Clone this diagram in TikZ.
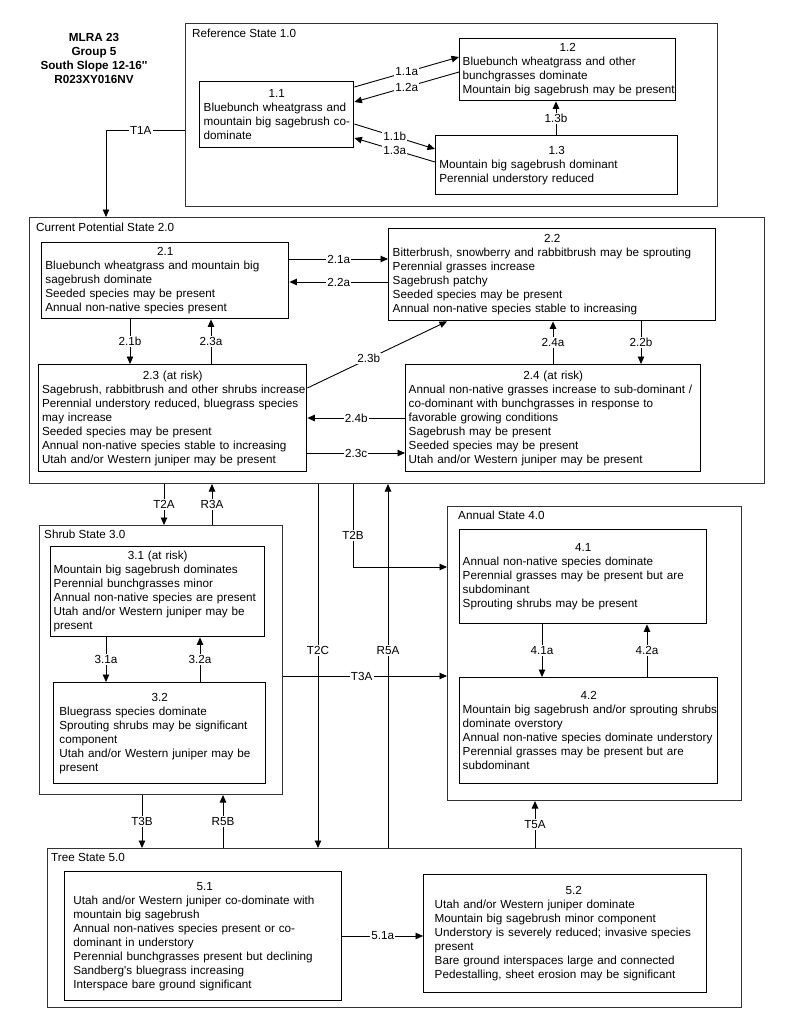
\documentclass[tikz,border=0pt]{standalone}
\usepackage{fontspec}
\setmainfont{Liberation Sans}[Ligatures=TeXOff]
\usetikzlibrary{arrows.meta}
\setlength{\parindent}{0pt}
\newcommand\bodyfont{\fontsize{11.7}{14}\selectfont}
\tikzset{
  statebox/.style={draw=black!80, line width=1pt, anchor=north west, inner sep=0pt},
  stitle/.style={anchor=base west, inner sep=0pt, font=\bodyfont},
  cbox/.style={draw, line width=1.4pt, anchor=north west, inner ysep=0pt, align=left, font=\bodyfont},
  conn/.style={line width=0.9pt, -{Triangle[length=7.5pt,width=6.5pt]}},
  lab/.style={fill=white, inner sep=1.2pt, font=\bodyfont},
}
\begin{document}
\begin{tikzpicture}[x=1pt,y=-1pt]
\useasboundingbox[fill=white] (0,0) rectangle (800,1036);

% header
\node[font=\bfseries\bodyfont, align=center, inner sep=0pt] (hdr) at (94,58) {MLRA 23\\Group 5\\South Slope 12-16''\\R023XY016NV};

% state boxes
\node[statebox, minimum width=532pt, minimum height=183pt] (s1) at (185,23) {};
\node[statebox, minimum width=735pt, minimum height=266pt] (s2) at (29,217) {};
\node[statebox, minimum width=243pt, minimum height=269pt] (s3) at (39,525) {};
\node[statebox, minimum width=294pt, minimum height=294pt] (s4) at (447,506) {};
\node[statebox, minimum width=694pt, minimum height=159pt] (s5) at (47,848) {};

\node[stitle] (st1) at (192,37) {Reference State 1.0};
\node[stitle] (st2) at (36,231) {Current Potential State 2.0};
\node[stitle] (st3) at (44,538) {Shrub State 3.0};
\node[stitle] (st4) at (458,519) {Annual State 4.0};
\node[stitle] (st5) at (51,861) {Tree State 5.0};

% community boxes
\node[cbox, inner xsep=4pt, minimum width=154pt, minimum height=66pt, text width=146pt] (n11) at (199,81)
 {{\centering 1.1\par}\mbox{Bluebunch wheatgrass and}\\\mbox{mountain big sagebrush co-}\\\mbox{dominate}};
\node[cbox, inner xsep=3pt, minimum width=216pt, minimum height=62pt, text width=210pt] (n12) at (459,38)
 {{\centering 1.2\par}\mbox{Bluebunch wheatgrass and other}\\\mbox{bunchgrasses dominate}\\\mbox{Mountain big sagebrush may be present}};
\node[cbox, inner xsep=3.7pt, minimum width=242pt, minimum height=59pt, text width=234.6pt] (n13) at (435,135)
 {{\centering 1.3\par}\mbox{Mountain big sagebrush dominant}\\\mbox{Perennial understory reduced}};

\node[cbox, inner xsep=3.7pt, minimum width=247pt, minimum height=76pt, text width=239.6pt] (n21) at (41,242)
 {{\centering 2.1\par}\mbox{Bluebunch wheatgrass and mountain big}\\\mbox{sagebrush dominate}\\\mbox{Seeded species may be present}\\\mbox{Annual non-native species present}};
\node[cbox, inner xsep=4pt, minimum width=327pt, minimum height=92pt, text width=319pt] (n22) at (388,228)
 {{\centering 2.2\par}\mbox{Bitterbrush, snowberry and rabbitbrush may be sprouting}\\\mbox{Perennial grasses increase}\\\mbox{Sagebrush patchy}\\\mbox{Seeded species may be present}\\\mbox{Annual non-native species stable to increasing}};
\node[cbox, inner xsep=3.3pt, minimum width=268pt, minimum height=107pt, text width=261.4pt] (n23) at (38,364)
 {{\centering 2.3 (at risk)\par}\mbox{Sagebrush, rabbitbrush and other shrubs increase}\\\mbox{Perennial understory reduced, bluegrass species}\\\mbox{may increase}\\\mbox{Seeded species may be present}\\\mbox{Annual non-native species stable to increasing}\\\mbox{Utah and/or Western juniper may be present}};
\node[cbox, inner xsep=3pt, minimum width=295pt, minimum height=107pt, text width=289pt] (n24) at (405,364)
 {{\centering 2.4 (at risk)\par}\mbox{Annual non-native grasses increase to sub-dominant /}\\\mbox{co-dominant with bunchgrasses in response to}\\\mbox{favorable growing conditions}\\\mbox{Sagebrush may be present}\\\mbox{Seeded species may be present}\\\mbox{Utah and/or Western juniper may be present}};

\node[cbox, inner xsep=3pt, minimum width=214pt, minimum height=90pt, text width=208pt] (n31) at (50,546)
 {{\centering 3.1 (at risk)\par}\mbox{Mountain big sagebrush dominates}\\\mbox{Perennial bunchgrasses minor}\\\mbox{Annual non-native species are present}\\\mbox{Utah and/or Western juniper may be}\\\mbox{present}};
\node[cbox, inner xsep=5.7pt, minimum width=212pt, minimum height=101pt, text width=200.6pt] (n32) at (53,682)
 {{\centering 3.2\par}\mbox{Bluegrass species dominate}\\\mbox{Sprouting shrubs may be significant}\\\mbox{component}\\\mbox{Utah and/or Western juniper may be}\\\mbox{present}};

\node[cbox, inner xsep=3pt, minimum width=247pt, minimum height=94pt, text width=241pt] (n41) at (459,529)
 {{\centering 4.1\par}\mbox{Annual non-native species dominate}\\\mbox{Perennial grasses may be present but are}\\\mbox{subdominant}\\\mbox{Sprouting shrubs may be present}};
\node[cbox, inner xsep=3pt, minimum width=258pt, minimum height=106pt, text width=252pt] (n42) at (459,677)
 {{\centering 4.2\par}\mbox{Mountain big sagebrush and/or sprouting shrubs}\\\mbox{dominate overstory}\\\mbox{Annual non-native species dominate understory}\\\mbox{Perennial grasses may be present but are}\\\mbox{subdominant}};

\node[cbox, inner xsep=8.7pt, minimum width=277pt, minimum height=129pt, text width=259.6pt] (n51) at (64,871)
 {{\centering\hspace*{3pt}5.1\par}\mbox{Utah and/or Western juniper co-dominate with}\\\mbox{mountain big sagebrush}\\\mbox{Annual non-natives species present or co-}\\\mbox{dominant in understory}\\\mbox{Perennial bunchgrasses present but declining}\\\mbox{Sandberg's bluegrass increasing}\\\mbox{Interspace bare ground significant}};
\node[cbox, inner xsep=11pt, minimum width=283pt, minimum height=118pt, text width=261pt] (n52) at (423,874)
 {{\centering\hspace*{17pt}5.2\par}\mbox{Utah and/or Western juniper dominate}\\\mbox{Mountain big sagebrush minor component}\\\mbox{Understory is severely reduced; invasive species}\\\mbox{present}\\\mbox{Bare ground interspaces large and connected}\\\mbox{Pedestalling, sheet erosion may be significant}};

% connectors within reference state
\draw[conn] (n11.east |- 0,87) -- node[lab]{1.1a} (n12.west |- 0,57);
\draw[conn] (n12.west |- 0,72) -- node[lab]{1.2a} (n11.east |- 0,102);
\draw[conn] (n11.east |- 0,124) -- node[lab]{1.1b} (n13.west |- 0,149);
\draw[conn] (n13.west |- 0,162) -- node[lab]{1.3a} (n11.east |- 0,138);
\draw[conn] (n13.north -| 556,0) -- node[lab]{1.3b} (n12.south -| 556,0);

% T1A
\draw[conn] (s1.west |- 0,130) -| node[lab,pos=0.28]{T1A} (s2.north -| 106,0);

% current potential state
\draw[conn] (n21.east |- 0,259) -- node[lab]{2.1a} (n22.west |- 0,259);
\draw[conn] (n22.west |- 0,282) -- node[lab]{2.2a} (n21.east |- 0,282);
\draw[conn] (n21.south -| 130,0) -- node[lab]{2.1b} (n23.north -| 130,0);
\draw[conn] (n23.north -| 211,0) -- node[lab]{2.3a} (n21.south -| 211,0);
\draw[conn] (n23.east |- 0,388) -- node[lab,pos=0.44]{2.3b} (n22.south -| 447,0);
\draw[conn] (n24.west |- 0,418) -- node[lab]{2.4b} (n23.east |- 0,418);
\draw[conn] (n23.east |- 0,453) -- node[lab]{2.3c} (n24.west |- 0,453);
\draw[conn] (n24.north -| 553,0) -- node[lab]{2.4a} (n22.south -| 553,0);
\draw[conn] (n22.south -| 641,0) -- node[lab]{2.2b} (n24.north -| 641,0);

% between states
\draw[conn] (s2.south -| 164,0) -- node[lab]{T2A} (s3.north -| 164,0);
\draw[conn] (s3.north -| 212,0) -- node[lab]{R3A} (s2.south -| 212,0);
\draw[conn] (s2.south -| 353,0) |- node[lab,pos=0.31]{T2B} (s4.west |- 0,567);
\draw[conn] (s2.south -| 318,0) -- node[lab,pos=0.457]{T2C} (s5.north -| 318,0);
\draw[conn] (s5.north -| 388,0) -- node[lab,pos=0.542]{R5A} (s2.south -| 388,0);
\draw[conn] (s3.east |- 0,676) -- node[lab,pos=0.48]{T3A} (s4.west |- 0,676);
\draw[conn] (s3.south -| 142,0) -- node[lab]{T3B} (s5.north -| 142,0);
\draw[conn] (s5.north -| 223,0) -- node[lab]{R5B} (s3.south -| 223,0);
\draw[conn] (s5.north -| 535,0) -- node[lab]{T5A} (s4.south -| 535,0);

% shrub state
\draw[conn] (n31.south -| 106,0) -- node[lab]{3.1a} (n32.north -| 106,0);
\draw[conn] (n32.north -| 200,0) -- node[lab]{3.2a} (n31.south -| 200,0);

% annual state
\draw[conn] (n41.south -| 542,0) -- node[lab]{4.1a} (n42.north -| 542,0);
\draw[conn] (n42.north -| 647,0) -- node[lab]{4.2a} (n41.south -| 647,0);

% tree state
\draw[conn] (n51.east |- 0,936) -- node[lab]{5.1a} (n52.west |- 0,936);
\end{tikzpicture}
\end{document}
